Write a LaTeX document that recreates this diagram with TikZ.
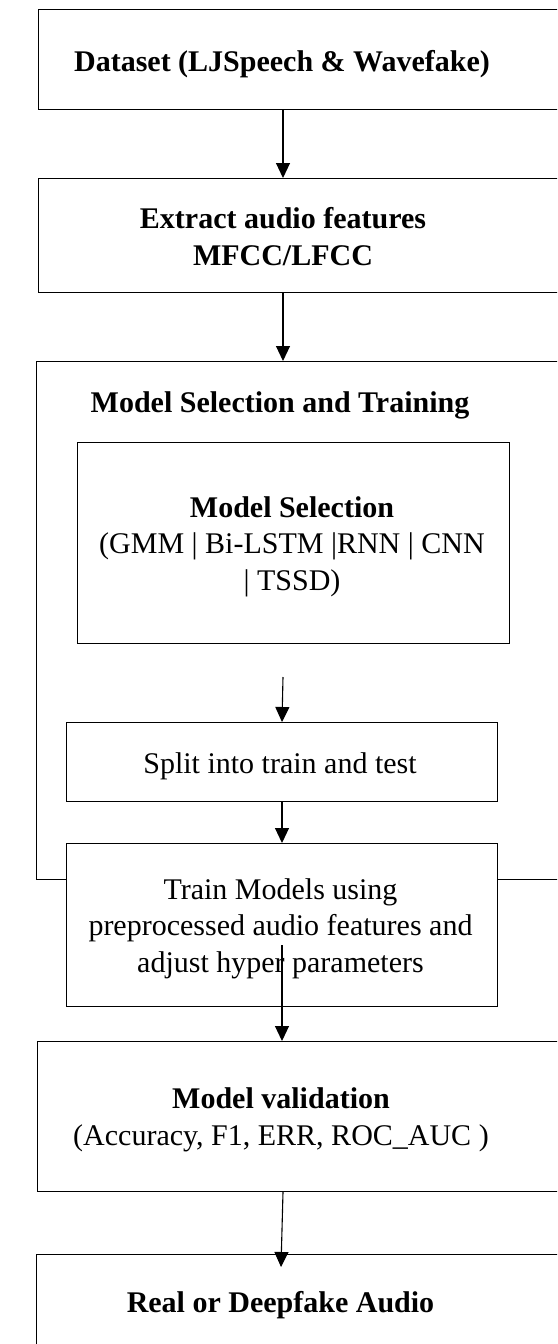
\documentclass[tikz,border=0pt]{standalone}
\usepackage{fontspec}
\setmainfont{Liberation Serif}
\usetikzlibrary{arrows.meta}
\begin{document}
\begin{tikzpicture}[x=1pt,y=-1pt,
  box/.style={draw, line width=1pt, fill=white, inner sep=0pt, anchor=north west},
  lbl/.style={inner sep=0pt, anchor=base, align=center,
              font=\fontsize{30}{36.5}\selectfont},
  blbl/.style={lbl, font=\fontsize{30}{36.5}\selectfont\bfseries},
  flow/.style={line width=1.1pt, -{Triangle[width=14pt,length=15pt]}}]
\useasboundingbox (0,0) rectangle (557,1344);
\clip (0,0) rectangle (557,1344);

% column positions of the connectors
\coordinate (colA) at (283,0);
\coordinate (colB) at (282,0);
\coordinate (colC) at (281,0);

% outer stages (labels are placed on the baseline of their last line)
\node[box, minimum width=562pt, minimum height=100pt] (ds) at (38,9) {};
\node[blbl] (dsT) at (282,71) {Dataset (LJSpeech \& Wavefake)};

\node[box, minimum width=562pt, minimum height=114pt] (ex) at (38,178) {};
\node[blbl] (exT) at (283,265) {Extract audio features\\MFCC/LFCC};

% model selection and training group
\node[box, minimum width=564pt, minimum height=518pt] (grp) at (36,361) {};
\node[blbl] (grpT) at (280,412) {Model Selection and Training};

\node[box, minimum width=432pt, minimum height=201pt] (ms) at (77,442) {};
\node[lbl] (msT) at (292,590) {\textbf{Model Selection}\\(GMM | Bi-LSTM |RNN | CNN\\| TSSD)};

\node[box, minimum width=431pt, minimum height=79pt] (sp) at (66,722) {};
\node[lbl] (spT) at (280,773) {Split into train and test};

\node[box, minimum width=431pt, minimum height=163pt] (tr) at (66,843) {};
\node[lbl] (trT) at (280.5,972) {Train Models using\\preprocessed audio features and\\adjust hyper parameters};

% evaluation and result
\node[box, minimum width=563pt, minimum height=150pt] (va) at (37,1041) {};
\node[lbl] (vaT) at (281,1145) {\textbf{Model validation}\\(Accuracy, F1, ERR, ROC\_AUC )};

\node[box, minimum width=564pt, minimum height=150pt] (fn) at (36,1254) {};
\node[blbl] (fnT) at (280.5,1312) {Real or Deepfake Audio};

% connectors
\coordinate (msOut) at (283,677);
\coordinate (trIn) at (282,945);
\draw[flow] (ds.south -| colA) -- (ex.north -| colA);
\draw[flow] (ex.south -| colA) -- (grp.north -| colA);
\draw[flow] (msOut) -- (sp.north -| colB);
\draw[flow] (sp.south -| colB) -- (tr.north -| colB);
\draw[flow] (trIn) -- (va.north -| colB);
\draw[flow] (va.south -| colA) -- ([yshift=-13pt]fn.north -| colC);
\end{tikzpicture}
\end{document}
